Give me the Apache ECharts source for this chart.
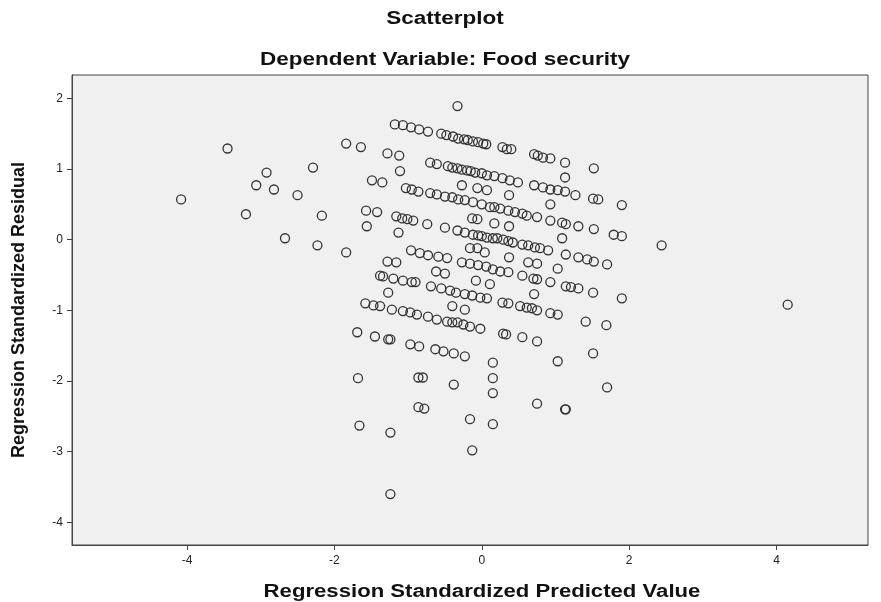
<!DOCTYPE html>
<html>
<head>
<meta charset="utf-8">
<script src="https://cdn.jsdelivr.net/npm/echarts@6/dist/echarts.min.js"></script>
<style>
html,body{margin:0;padding:0;background:#fff;}
#chart{width:881px;height:602px;}
</style>
</head>
<body>
<div id="chart"></div>
<script>
// Tick labels
const xTicks = [-4, -2, 0, 2, 4];
const yTicks = [-4, -3, -2, -1, 0, 1, 2];

// Regression standardized predicted values (x) and residuals (y)
const predicted = [
  -4.08,-3.45,-2.92,-3.06,-2.82,-2.50,-2.29,-3.20,-2.17,-2.67,-2.23,-1.84,-1.84,-1.64,-1.28,-1.12,-1.11,-1.49,-1.35,-1.57,-1.42,-1.56,-1.13,-1.28,-1.16,
  -0.33,
  -1.18,-1.07,-0.96,-0.85,-0.73,-0.55,-0.48,-0.39,-0.32,-0.24,-0.19,-0.12,-0.05,0.02,0.06,0.28,0.34,0.40,0.71,0.76,0.83,0.93,1.13,1.52,
  -0.70,-0.61,-0.46,-0.40,-0.33,-0.27,-0.20,-0.15,-0.09,0.00,0.07,0.17,0.28,0.38,0.49,0.71,0.83,0.93,1.03,1.13,1.27,1.51,1.58,1.90,
  1.13,-0.27,-0.06,0.07,0.37,0.93,
  -1.03,-0.95,-0.86,-0.70,-0.61,-0.50,-0.40,-0.32,-0.23,-0.12,0.00,0.11,0.17,0.25,0.36,0.45,0.55,0.61,0.75,0.93,1.09,1.14,1.31,1.52,1.79,1.90,2.44,
  -0.13,-0.06,0.17,0.37,1.09,
  -1.16,-1.08,-1.01,-0.93,-0.74,-0.50,-0.33,-0.23,-0.12,-0.05,0.00,0.07,0.15,0.21,0.29,0.36,0.42,0.55,0.63,0.72,0.79,0.90,1.14,1.31,1.43,1.52,1.70,
  -0.16,-0.06,0.04,0.37,0.63,0.75,1.03,
  -0.96,-0.84,-0.73,-0.59,-0.47,-0.27,-0.16,-0.05,0.06,0.15,0.25,0.36,0.55,0.70,0.75,0.93,1.14,1.21,1.31,1.51,1.90,
  -0.62,-0.50,-0.08,0.11,
  -1.38,-1.34,-1.20,-1.07,-0.95,-0.90,
  -1.27,0.71,
  -0.69,-0.55,-0.43,-0.35,-0.23,-0.13,-0.02,0.07,0.28,0.36,0.52,0.61,0.68,0.75,0.93,1.03,1.41,1.69,
  -0.40,-0.23,
  -1.58,-1.47,-1.38,-1.22,-1.07,-0.97,-0.88,
  -0.73,-0.61,-0.47,-0.40,-0.33,-0.25,-0.16,-0.02,
  0.29,0.33,0.55,0.75,
  -1.69,-1.45,-1.27,-1.24,-0.97,-0.85,-0.63,-0.52,-0.38,-0.23,0.15,1.03,1.51,
  -1.68,-0.86,-0.80,-0.38,0.15,0.15,0.75,1.13,1.14,1.70,-1.66,-1.24,-0.86,-0.78,-0.16,0.15,-0.13,-1.24,
  4.15
];
const residual = [
  0.57,1.29,0.95,0.77,0.71,0.63,1.02,0.36,0.34,0.02,-0.08,-0.18,1.36,1.31,1.22,1.19,0.97,0.84,0.81,0.41,0.39,0.19,0.10,-0.31,-0.32,
  1.89,
  1.63,1.62,1.59,1.56,1.53,1.50,1.48,1.46,1.43,1.42,1.41,1.39,1.38,1.36,1.35,1.31,1.28,1.28,1.21,1.19,1.16,1.15,1.09,1.01,
  1.09,1.07,1.04,1.02,1.01,0.99,0.98,0.97,0.95,0.94,0.91,0.90,0.87,0.84,0.81,0.77,0.74,0.71,0.70,0.68,0.63,0.58,0.57,0.49,
  0.88,0.77,0.73,0.70,0.63,0.50,
  0.73,0.71,0.68,0.66,0.64,0.61,0.60,0.57,0.56,0.53,0.50,0.46,0.46,0.44,0.41,0.39,0.37,0.34,0.32,0.27,0.24,0.22,0.19,0.15,0.07,0.05,-0.08,
  0.30,0.29,0.23,0.19,0.02,
  0.33,0.30,0.29,0.27,0.22,0.17,0.13,0.10,0.07,0.06,0.05,0.03,0.02,0.02,0.00,-0.02,-0.04,-0.07,-0.08,-0.11,-0.12,-0.15,-0.21,-0.25,-0.28,-0.31,-0.35,
  -0.12,-0.12,-0.18,-0.25,-0.32,-0.34,-0.41,
  -0.15,-0.19,-0.22,-0.24,-0.26,-0.32,-0.34,-0.36,-0.38,-0.42,-0.45,-0.46,-0.51,-0.55,-0.56,-0.60,-0.66,-0.67,-0.69,-0.75,-0.83,
  -0.45,-0.48,-0.58,-0.63,
  -0.51,-0.52,-0.55,-0.58,-0.60,-0.60,
  -0.75,-0.77,
  -0.66,-0.69,-0.72,-0.75,-0.77,-0.79,-0.82,-0.83,-0.89,-0.90,-0.94,-0.96,-0.97,-1.00,-1.04,-1.06,-1.16,-1.21,
  -0.94,-0.99,
  -0.90,-0.93,-0.94,-0.99,-1.01,-1.03,-1.06,
  -1.09,-1.13,-1.16,-1.17,-1.17,-1.20,-1.23,-1.26,
  -1.33,-1.34,-1.38,-1.44,
  -1.31,-1.37,-1.41,-1.41,-1.48,-1.51,-1.55,-1.58,-1.61,-1.65,-1.74,-1.72,-1.61,
  -1.96,-1.95,-1.95,-2.05,-1.96,-2.17,-2.32,-2.40,-2.40,-2.09,-2.63,-2.73,-2.37,-2.39,-2.54,-2.61,-2.98,-3.60,
  -0.92
];

const points = predicted.map((x, i) => [x, residual[i]]);

const chart = echarts.init(document.getElementById('chart'), null, {renderer: 'canvas'});
const FONT = '"Liberation Sans", Arial, sans-serif';

chart.setOption({
  animation: false,
  backgroundColor: '#ffffff',
  graphic: [
    {type: 'text', x: 445, y: 19, scaleX: 1.25, style: {text: 'Scatterplot', font: 'bold 18px ' + FONT, fill: '#111', align: 'center', verticalAlign: 'middle'}},
    {type: 'text', x: 445, y: 60, scaleX: 1.25, style: {text: 'Dependent Variable: Food security', font: 'bold 18px ' + FONT, fill: '#111', align: 'center', verticalAlign: 'middle'}},
    {type: 'text', x: 482, y: 592, scaleX: 1.23, style: {text: 'Regression Standardized Predicted Value', font: 'bold 18px ' + FONT, fill: '#111', align: 'center', verticalAlign: 'middle'}}
  ],
  grid: {
    left: 72, right: 13, top: 75, bottom: 57,
    show: true, backgroundColor: '#f0f0f0', borderColor: '#444', borderWidth: 1
  },
  xAxis: {
    type: 'value', min: -5.56, max: 5.24,
    axisLine: {show: true, onZero: false, lineStyle: {color: '#444', width: 1}},
    axisTick: {show: true, length: 5, customValues: xTicks, lineStyle: {color: '#444'}},
    axisLabel: {customValues: xTicks, fontFamily: FONT, fontSize: 12, color: '#222', margin: 10},
    splitLine: {show: false}
  },
  yAxis: {
    type: 'value', min: -4.32, max: 2.33,
    name: 'Regression Standardized Residual',
    nameLocation: 'middle', nameGap: 44,
    nameTextStyle: {fontFamily: FONT, fontWeight: 'bold', fontSize: 18, color: '#111'},
    axisLine: {show: true, onZero: false, lineStyle: {color: '#444', width: 1}},
    axisTick: {show: true, length: 5, customValues: yTicks, lineStyle: {color: '#444'}},
    axisLabel: {customValues: yTicks, fontFamily: FONT, fontSize: 12, color: '#222', margin: 9},
    splitLine: {show: false}
  },
  series: [{
    type: 'scatter',
    data: points,
    symbol: 'circle',
    symbolSize: 9,
    itemStyle: {color: 'rgba(0,0,0,0)', borderColor: '#333', borderWidth: 1.3, opacity: 1}
  }]
});
</script>
</body>
</html>
